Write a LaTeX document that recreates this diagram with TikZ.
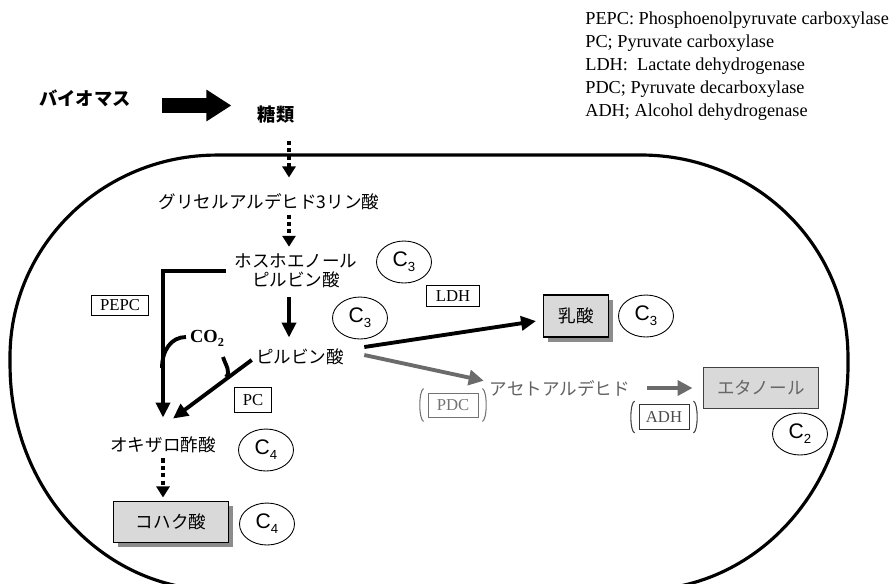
\documentclass[tikz,border=0pt]{standalone}
\usepackage{fontspec}
\setmainfont{Liberation Serif}
\setsansfont{Liberation Sans}
\newfontfamily\jp{Noto Sans CJK JP}
\usetikzlibrary{arrows.meta,shapes.geometric,shadows}

\newcommand{\carb}[1]{C\raisebox{-0.45ex}{\fontsize{7.5}{7.5}\selectfont #1}}

\begin{document}
\begin{tikzpicture}[
  x=0.02cm, y=0.02cm,
  jptext/.style={inner sep=0pt, align=center, font=\jp\fontsize{10}{10.6}\selectfont},
  jpbold/.style={inner sep=0pt, font=\jp\bfseries\fontsize{10.4}{11}\selectfont},
  enzyme/.style={draw, line width=0.5pt, inner sep=1pt, font=\fontsize{9.5}{10}\selectfont},
  product/.style={draw, line width=0.6pt, fill=gray!30, minimum width=2.3cm, minimum height=0.82cm,
    font=\jp\fontsize{10}{11}\selectfont,
    general shadow={fill=black!45, shadow xshift=0.09cm, shadow yshift=-0.09cm}},
  ethbox/.style={draw=black!75, line width=0.6pt, fill=gray!30, text=black!60, minimum width=2.3cm,
    minimum height=0.82cm, font=\jp\fontsize{10}{11}\selectfont},
  carbon/.style={draw, ellipse, line width=0.5pt, minimum width=1.1cm, minimum height=0.84cm,
    inner sep=0pt, font=\sffamily\fontsize{12}{12}\selectfont},
  paren/.style={line width=0.6pt},
  cellwall/.style={line width=1.8pt},
  dotarrow/.style={line width=2.2pt, dash pattern=on 2.3pt off 1.9pt, -{Triangle[length=0.22cm,width=0.26cm]}},
  solidarrow/.style={line width=2.2pt, -{Triangle[length=0.3cm,width=0.28cm]}},
  grayarrow/.style={line width=2.2pt, draw=black!58, -{Triangle[length=0.3cm,width=0.3cm]}},
  hook/.style={line width=2.2pt},
  bigarrow/.style={line width=0.3cm, -{Triangle[length=0.5cm,width=0.6cm]}}
]
\useasboundingbox (0,0) rectangle (891,-583);

% cell
\begin{scope}
\clip (0,0) rectangle (891,-583);
\draw[cellwall] (217,-155) -- (641,-155)
  arc[start angle=90, end angle=0, x radius=4.14cm, y radius=4.04cm] -- (848,-365)
  arc[start angle=0, end angle=-90, x radius=4.14cm, y radius=4.5cm] -- (217,-590)
  arc[start angle=270, end angle=180, x radius=4.14cm, y radius=4.5cm] -- (10,-357)
  arc[start angle=180, end angle=90, x radius=4.14cm, y radius=4.04cm] -- cycle;
\end{scope}

% legend
\node[anchor=north west, inner sep=0pt, align=left, font=\fontsize{10.4}{13.2}\selectfont] (legend) at (585,-11)
  {PEPC: Phosphoenolpyruvate carboxylase\\PC; Pyruvate carboxylase\\LDH:\ \ Lactate dehydrogenase\\PDC; Pyruvate decarboxylase\\ADH; Alcohol dehydrogenase};

% metabolites
\node[jpbold] (biomass) at (85,-98) {バイオマス};
\node[jpbold] (sugar) at (276,-115) {糖類};
\node[jptext] (g3p) at (269,-202) {グリセルアルデヒド3リン酸};
\node[jptext] (pep) at (296,-271) {ホスホエノール\\ピルビン酸};
\node[jptext] (pyr) at (300,-357) {ピルビン酸};
\node[jptext] (oaa) at (163,-445) {オキザロ酢酸};
\node[jptext, text=black!62] (acet) at (560,-388) {アセトアルデヒド};
\node[product] (succ) at (171,-522) {コハク酸};
\node[product, minimum width=1.3cm, minimum height=0.84cm] (lac) at (576,-316) {乳酸};
\node[ethbox] (eth) at (761,-388) {エタノール};
\node[inner sep=0pt, font=\bfseries\fontsize{10.5}{11}\selectfont] (co2) at (207,-338) {CO\raisebox{-0.5ex}{\fontsize{7}{7}\selectfont 2}};

% carbon numbers
\node[carbon] (c3pep) at (404,-262) {\carb{3}};
\node[carbon] (c3pyr) at (360,-318) {\carb{3}};
\node[carbon] (c3lac) at (646,-316) {\carb{3}};
\node[carbon] (c4oaa) at (266,-450) {\carb{4}};
\node[carbon] (c4succ) at (267,-524) {\carb{4}};
\node[carbon] (c2eth) at (800,-434) {\carb{2}};

% enzymes
\node[enzyme, minimum width=1.14cm, minimum height=0.4cm] (pepc) at (120,-305) {PEPC};
\node[enzyme, minimum width=0.74cm, minimum height=0.5cm] (pc) at (253,-400) {PC};
\node[enzyme, minimum width=1.06cm, minimum height=0.42cm] (ldh) at (453,-296) {LDH};
\node[enzyme, minimum width=1.0cm, minimum height=0.48cm, draw=black!55, text=black!55] (pdc) at (453,-405) {PDC};
\node[enzyme, minimum width=1.0cm, minimum height=0.5cm, draw=black!80, text=black!70] (adh) at (664,-417) {ADH};

\draw[paren, draw=black!55] ([xshift=-0.08cm,yshift=0.08cm]pdc.north west) .. controls +(-0.1cm,-0.04cm) and +(-0.1cm,0.04cm) .. ([xshift=-0.08cm,yshift=-0.08cm]pdc.south west);
\draw[paren, draw=black!55] ([xshift=0.08cm,yshift=0.08cm]pdc.north east) .. controls +(0.1cm,-0.04cm) and +(0.1cm,0.04cm) .. ([xshift=0.08cm,yshift=-0.08cm]pdc.south east);
\draw[paren, draw=black!75] ([xshift=-0.08cm,yshift=0.06cm]adh.north west) .. controls +(-0.1cm,-0.04cm) and +(-0.1cm,0.04cm) .. ([xshift=-0.08cm,yshift=-0.06cm]adh.south west);
\draw[paren, draw=black!75] ([xshift=0.08cm,yshift=0.06cm]adh.north east) .. controls +(0.1cm,-0.04cm) and +(0.1cm,0.04cm) .. ([xshift=0.08cm,yshift=-0.06cm]adh.south east);

% arrows
\path (biomass.east -| sugar.west) coordinate (bigtip);
\draw[bigarrow, shorten <=0.62cm, shorten >=0.52cm] ([yshift=-0.15cm]biomass.east) -- ([yshift=-0.15cm]bigtip);

\coordinate (axis) at (289,0);
\draw[dotarrow, shorten <=0.34cm, shorten >=0.32cm] (sugar.south -| axis) -- (g3p.north -| axis);
\draw[dotarrow, shorten <=0.08cm, shorten >=0.14cm] (g3p.south -| axis) -- (pep.north -| axis);
\draw[solidarrow, shorten <=0.18cm, shorten >=0.22cm] (pep.south -| axis) -- (pyr.north -| axis);
\draw[solidarrow, shorten <=0.16cm, shorten >=0.38cm] (pep.west) -| (oaa.north);
\draw[solidarrow, shorten <=0.1cm] (pyr.west) -- ([xshift=0.2cm,yshift=0.36cm]oaa.north);
\draw[solidarrow, shorten >=0.14cm] ([xshift=0.4cm,yshift=0.2cm]pyr.east) -- ([yshift=-0.08cm]lac.west);
\draw[grayarrow, shorten >=0.12cm] ([xshift=0.4cm,yshift=0.04cm]pyr.east) -- ([yshift=0.12cm]acet.west);
\draw[grayarrow, line width=2.8pt, shorten <=0.34cm, shorten >=0.21cm] (acet.east) -- (eth.west);
\draw[dotarrow, shorten <=0.1cm, shorten >=0.07cm] (oaa.south) -- (oaa.south |- succ.north);

% CO2 hooks
\draw[hook] ([xshift=-0.42cm,yshift=0.02cm]co2.center) .. controls +(-0.3cm,0cm) and +(0cm,0.35cm) .. +(-0.48cm,-0.62cm);
\draw[hook] ([xshift=0.32cm,yshift=-0.38cm]co2.center) .. controls +(0.06cm,-0.18cm) and +(0.1cm,0.1cm) .. +(0.06cm,-0.4cm);
\end{tikzpicture}
\end{document}
